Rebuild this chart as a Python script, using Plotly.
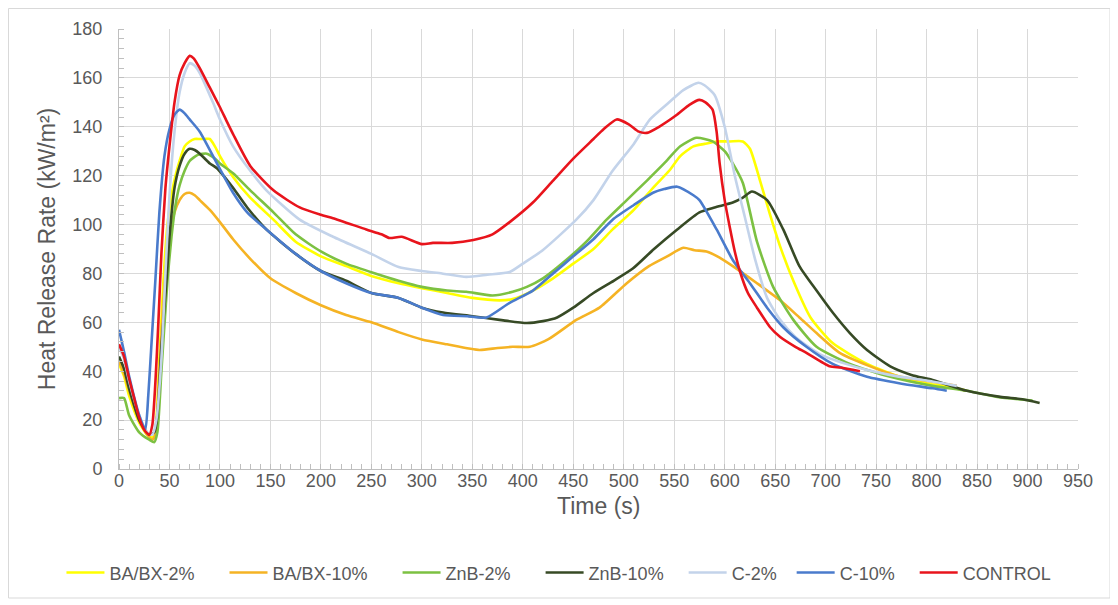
import plotly.graph_objects as go

# ---------------- data ----------------
series_names = ["BA/BX-2%", "BA/BX-10%", "ZnB-2%", "ZnB-10%", "C-2%", "C-10%", "CONTROL"]

t_babx2 = [0, 5, 10, 20, 28, 33, 36, 40, 44, 48, 52, 56, 60, 65, 70, 75, 80, 85, 90, 95, 100, 113, 130, 153, 175, 200,
           225, 250, 277, 300, 325, 350, 377, 390, 410, 430, 450, 470, 489, 510, 529, 545, 556, 569, 580, 592, 605,
           618, 625, 635, 645, 655, 668, 685, 707, 741, 774, 800, 823, 840]
v_babx2 = [43, 38, 30, 19, 14, 13, 16, 45, 77, 100, 112, 120, 126, 132, 134, 135, 135, 135, 135, 132, 128, 119.5, 111,
           102, 93, 87, 83, 79, 76, 74, 72, 70, 69, 69.5, 73, 78, 84, 90, 98, 106, 115, 122, 128, 132, 133, 134, 134,
           134, 131, 118, 104, 91, 77, 62, 51.5, 43, 37.6, 35, 33.6, 32]

t_babx10 = [0, 5, 10, 20, 28, 33, 36, 40, 45, 50, 55, 60, 65, 70, 75, 80, 90, 100, 113, 130, 150, 175, 200, 225, 250,
            277, 300, 325, 357, 375, 390, 407, 425, 453, 476, 503, 525, 543, 559, 570, 582, 595, 608, 632, 655, 674,
            691, 714, 741, 774, 806, 830]
v_babx10 = [44, 39, 32, 20, 14, 12, 14, 40, 75, 95, 105, 110, 112.5, 113, 112, 110, 106, 101, 94, 86, 78, 72, 67, 63,
            60, 56, 53, 51, 48.7, 49.5, 50, 50, 53, 61, 66, 76, 83, 87, 90.5, 89.5, 89, 86.5, 83, 76, 69, 62, 55.6, 47.5,
            42.5, 37.7, 35.7, 34]

t_znb2 = [0, 5, 10, 20, 30, 35, 38, 42, 48, 52, 56, 60, 65, 70, 78, 87, 95, 100, 113, 130, 153, 175, 200, 225, 250,
          277, 300, 325, 344, 370, 390, 404, 420, 443, 463, 483, 503, 523, 540, 556, 572, 588, 600, 608, 618, 632,
          648, 668, 691, 724, 764, 806, 840, 870, 905]
v_znb2 = [29, 29, 22, 15, 12, 11, 15, 40, 77, 95, 108, 116, 122, 126, 128.5, 129, 127, 125, 121, 114, 105, 96, 89, 84,
          80.5, 77, 74.5, 73, 72.5, 71, 72.5, 74.5, 78, 85.5, 93, 102, 110, 118, 125, 132, 135.5, 134, 130, 125, 117,
          93, 74.5, 61, 50, 43, 37.7, 34, 32, 29.5, 28]

t_znb10 = [0, 5, 10, 20, 30, 35, 38, 42, 47, 50, 55, 60, 65, 70, 75, 80, 90, 97, 113, 127, 146, 175, 200, 225, 250,
           277, 300, 321, 350, 377, 404, 420, 434, 450, 470, 490, 509, 530, 553, 575, 590, 608, 618, 627, 642, 658,
           674, 691, 707, 724, 741, 764, 785, 806, 840, 873, 895, 912]
v_znb10 = [46, 41, 33, 20, 14, 15, 22, 50, 77, 95, 115, 124, 129, 131, 130.5, 129, 125, 123, 115, 107, 98, 88, 81, 77,
           72, 70, 66, 64, 62.5, 61, 59.7, 60.5, 62, 66, 72, 77, 82, 90, 98, 105, 107, 109, 111, 113.5, 110, 98, 83,
           73, 64, 55.6, 48.7, 42, 38.5, 36.4, 32, 29.5, 28.5, 27]

t_c2 = [0, 5, 10, 20, 28, 33, 37, 42, 46, 50, 55, 60, 65, 70, 75, 80, 93, 100, 113, 130, 146, 179, 212, 250, 277, 300,
        320, 344, 365, 387, 400, 420, 453, 470, 489, 510, 526, 545, 559, 574, 580, 590, 600, 610, 620, 630, 642, 655,
        670, 694, 720, 741, 770, 803, 830]
v_c2 = [50, 45, 36, 22, 15, 14, 20, 45, 80, 112, 138, 154, 162, 166, 165, 162, 150, 143, 132, 122, 114, 102, 95, 88,
        82.6, 81, 80, 78.6, 79.5, 80.6, 84, 89.6, 102, 110, 122, 133, 143, 150, 155, 158, 157, 153, 140, 120, 103, 86,
        70, 61, 54, 47, 43, 40.5, 38, 36, 34]

t_c10 = [0, 5, 10, 20, 26, 29, 32, 36, 40, 45, 50, 55, 60, 65, 70, 80, 97, 113, 127, 146, 175, 200, 225, 250, 277,
         300, 321, 345, 364, 387, 410, 430, 450, 470, 489, 510, 529, 540, 553, 569, 575, 592, 608, 625, 642, 658, 681,
         707, 741, 774, 806, 820]
v_c10 = [57, 48, 38, 22, 16, 30, 50, 77, 105, 128, 139, 145, 147, 145.5, 143, 138, 125, 113, 105, 98, 88, 81, 76, 72,
         70, 66, 63, 62.5, 62, 68, 73, 80, 87, 94, 102, 108, 113, 114.5, 115.5, 112, 110, 98, 85.5, 76, 66, 58, 50, 43,
         37.7, 35, 33, 32]

t_ctrl = [0, 5, 10, 15, 20, 25, 30, 33, 36, 39, 42, 46, 50, 55, 60, 65, 70, 74, 80, 90, 100, 107, 113, 130, 153, 179,
          200, 212, 245, 260, 268, 280, 300, 311, 330, 351, 370, 387, 410, 430, 450, 470, 480, 493, 505, 515, 523,
          535, 553, 565, 575, 581, 588, 592, 595, 600, 605, 610, 615, 623, 632, 645, 655, 670, 681, 704, 715, 734]
v_ctrl = [51, 46, 37, 29, 21, 16, 14, 18, 35, 60, 88, 115, 132, 150, 161, 166, 169, 168, 164, 156, 148, 142, 137, 124,
          114, 107, 104, 102.6, 98, 96, 94.5, 95, 92, 92.5, 92.5, 93.7, 96, 101, 109, 118, 127, 135, 139, 143, 141, 138,
          137.5, 140, 145, 149, 151, 150, 147, 138, 125, 110, 99, 89, 81, 72, 66, 58, 54, 50, 47.5, 42, 41.5, 40]

x_data = [t_babx2, t_babx10, t_znb2, t_znb10, t_c2, t_c10, t_ctrl]
y_data = [v_babx2, v_babx10, v_znb2, v_znb10, v_c2, v_c10, v_ctrl]
colors = ["#ffff00", "#f5b324", "#7cc142", "#374a25", "#c3d3ea", "#4a7bcc", "#e8141c"]
legend_pad = [5, 5, 5, 3, 2, 3, 0]   # spacing after each legend label (non-breaking spaces)

x_ticks = list(range(0, 951, 50))
y_ticks = list(range(0, 181, 20))
x_title = "Time (s)"
y_title = "Heat Release Rate (kW/m²)"

# ---------------- figure ----------------
fig = go.Figure()
for name, xs, ys, c, p in zip(series_names, x_data, y_data, colors, legend_pad):
    fig.add_trace(go.Scatter(
        x=xs, y=ys, mode="lines", name=name + "\u00a0" * p,
        line=dict(color=c, width=2.6, shape="spline", smoothing=0.6),
    ))

FONT = "Liberation Sans, Arial, sans-serif"
GRAY = "#595959"

fig.update_layout(
    width=1110, height=597,
    margin=dict(l=111, r=40, t=21, b=136),
    paper_bgcolor="white", plot_bgcolor="white",
    font=dict(family=FONT, color=GRAY),
    showlegend=True,
    legend=dict(orientation="h", x=-0.06, xanchor="left", y=-0.236, yanchor="middle",
                font=dict(size=18, color=GRAY, family=FONT), bgcolor="rgba(0,0,0,0)",
                itemwidth=38, itemclick=False, itemdoubleclick=False),
    xaxis=dict(range=[0, 950], tickvals=x_ticks, ticktext=[str(v) for v in x_ticks],
               showgrid=True, gridcolor="#d9d9d9", gridwidth=1,
               showline=True, linecolor="#bfbfbf", linewidth=1, zeroline=False,
               ticks="", tickfont=dict(size=18, color=GRAY), ticklabelstandoff=-5,
               minor=dict(dtick=10, tick0=0, ticks="inside", ticklen=5, tickcolor="#bfbfbf", showgrid=False)),
    yaxis=dict(range=[0, 180], tickvals=y_ticks, ticktext=[str(v) for v in y_ticks],
               showgrid=True, gridcolor="#d9d9d9", gridwidth=1,
               showline=True, linecolor="#bfbfbf", linewidth=1, zeroline=False,
               ticks="", tickfont=dict(size=18, color=GRAY), ticklabelstandoff=12,
               minor=dict(dtick=4, tick0=0, ticks="inside", ticklen=5, tickcolor="#bfbfbf", showgrid=False),
               title=dict(text=y_title, font=dict(size=23, color=GRAY), standoff=10)),
)

fig.add_annotation(text=x_title, xref="paper", yref="paper", x=0.5, y=(469 - 506) / 440,
                   xanchor="center", yanchor="middle", showarrow=False,
                   font=dict(size=23, color=GRAY, family=FONT))

# chart-area border (page coords converted to paper coords of the plot area)
fig.add_shape(type="rect", xref="paper", yref="paper",
              x0=(8.5 - 119) / 959, x1=(1110 - 119) / 959, y0=(469 - 598) / 440, y1=(469 - 8.5) / 440,
              line=dict(color="#d9d9d9", width=1), fillcolor="rgba(0,0,0,0)", layer="below")

fig.write_html("out.html")
